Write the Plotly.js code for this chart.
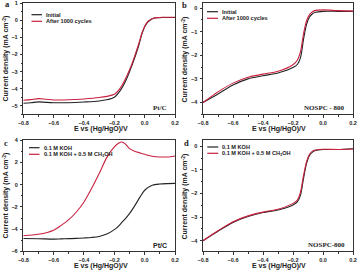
<!DOCTYPE html>
<html><head><meta charset="utf-8">
<script src="https://cdn.plot.ly/plotly-3.0.1.min.js"></script>
<style>html,body{margin:0;padding:0;background:#fff}#p{width:360px;height:274px}</style>
</head><body><div id="p"></div>
<script>
// Panel a: Pt/C stability
const a_E = [-0.8,-0.75,-0.7,-0.65,-0.6,-0.5,-0.4,-0.3,-0.25,-0.2,-0.16,-0.12,-0.08,-0.04,-0.02,0,0.02,0.04,0.06,0.08,0.12,0.16,0.2];
const a_initial = [-4.85,-4.82,-4.77,-4.8,-4.82,-4.82,-4.78,-4.72,-4.65,-4.5,-4.1,-3.45,-2.55,-1.5,-0.85,-0.38,-0.1,0.04,0.12,0.15,0.17,0.17,0.17];
const a_after = [-4.68,-4.64,-4.58,-4.62,-4.66,-4.65,-4.6,-4.52,-4.45,-4.33,-3.95,-3.3,-2.45,-1.4,-0.8,-0.35,-0.08,0.05,0.13,0.16,0.18,0.18,0.18];
// Panel b: NOSPC-800 stability
const b_E = [-0.8,-0.7,-0.6,-0.5,-0.4,-0.3,-0.2,-0.17,-0.15,-0.13,-0.11,-0.09,-0.07,-0.05,0,0.1,0.2];
const b_initial = [-4.0,-3.64,-3.26,-3.0,-2.87,-2.75,-2.52,-2.38,-2.1,-1.33,-0.7,-0.38,-0.24,-0.18,-0.14,-0.14,-0.14];
const b_after = [-4.0,-3.55,-3.18,-2.93,-2.8,-2.68,-2.4,-2.2,-1.85,-1.1,-0.55,-0.28,-0.16,-0.1,-0.08,-0.11,-0.13];
// Panel c: Pt/C methanol tolerance
const c_E = [-0.8,-0.7,-0.6,-0.55,-0.5,-0.45,-0.4,-0.35,-0.3,-0.25,-0.2,-0.17,-0.15,-0.13,-0.1,-0.07,-0.03,0,0.05,0.1,0.15,0.2];
const c_koh = [-4.85,-4.87,-4.9,-4.88,-4.86,-4.84,-4.8,-4.75,-4.66,-4.45,-4.05,-3.7,-3.4,-3.1,-2.6,-2.0,-1.1,-0.5,-0.05,0.06,0.1,0.12];
const c_meoh = [-4.6,-4.47,-4.1,-3.66,-3.15,-2.46,-1.56,-0.35,1.0,2.44,3.4,3.76,3.85,3.7,3.25,3.04,2.86,2.74,2.56,2.5,2.5,2.59];
// Panel d: NOSPC-800 methanol tolerance
const d_E = [-0.8,-0.7,-0.6,-0.5,-0.4,-0.3,-0.2,-0.17,-0.15,-0.13,-0.11,-0.09,-0.07,-0.05,0,0.1,0.2];
const d_koh = [-4.0,-3.6,-3.23,-2.98,-2.81,-2.7,-2.49,-2.35,-2.07,-1.37,-0.74,-0.39,-0.25,-0.18,-0.14,-0.14,-0.11];
const d_meoh = [-4.0,-3.58,-3.2,-2.95,-2.79,-2.67,-2.42,-2.27,-1.95,-1.25,-0.66,-0.34,-0.21,-0.16,-0.13,-0.14,-0.12];

const legA = ["Initial","After 1000 cycles"];
const legC = ["0.1 M KOH","0.1 M KOH + 0.5 M CH<sub>3</sub>OH"];
const xTitle = "E vs (Hg/HgO)/V";
const yTitle = "Current density (mA cm<sup>-2</sup>)";

const BLACK = "#222222", RED = "#c8203f";
const W = 360, H = 274;
const px = v => v / W, py = v => 1 - v / H;

function tr(x, y, c, xa, ya) {
  return {x: x, y: y, type: "scatter", mode: "lines", xaxis: xa, yaxis: ya,
    line: {color: c, width: 1.1, shape: "spline", smoothing: 0.8}, showlegend: false, hoverinfo: "skip"};
}
const data = [
  tr(a_E, a_initial, BLACK, "x", "y"), tr(a_E, a_after, RED, "x", "y"),
  tr(b_E, b_initial, BLACK, "x2", "y2"), tr(b_E, b_after, RED, "x2", "y2"),
  tr(c_E, c_koh, BLACK, "x3", "y3"), tr(c_E, c_meoh, RED, "x3", "y3"),
  tr(d_E, d_koh, BLACK, "x4", "y4"), tr(d_E, d_meoh, RED, "x4", "y4")
];

const tickF = {family: "Liberation Sans, Arial", size: 5.5, color: "#222", weight: "bold"};
function xax(dom, anchor) {
  return {domain: dom, anchor: anchor, range: [-0.8, 0.2], dtick: 0.2, tick0: -0.8, tickformat: ".1f",
    showline: true, mirror: true, linecolor: "#333", linewidth: 1, ticks: "outside", ticklen: 2.5,
    tickcolor: "#333", tickwidth: 1, showgrid: false, zeroline: false, tickfont: tickF, ticklabelstandoff: 1,
    minor: {dtick: 0.1, ticks: "outside", ticklen: 1.5, tickcolor: "#333"}};
}
function yax(dom, anchor, range, dt) {
  return {domain: dom, anchor: anchor, range: range, dtick: dt, tick0: 0,
    showline: true, mirror: true, linecolor: "#333", linewidth: 1, ticks: "outside", ticklen: 2.5,
    tickcolor: "#333", tickwidth: 1, showgrid: false, zeroline: false, tickfont: tickF, ticklabelstandoff: 1,
    minor: {dtick: dt / 2, ticks: "outside", ticklen: 1.5, tickcolor: "#333"}};
}
const xL = [px(23.3), px(175)], xR = [px(203), px(353)];
const yT = [py(114.3), py(3.3)], yB = [py(251.3), py(140.3)];

const labF = {family: "Liberation Sans, Arial", size: 7, color: "#222", weight: "bold"};
const legF = {family: "Liberation Sans, Arial", size: 5.6, color: "#222", weight: "bold"};
const serifF = {family: "Liberation Serif, Times New Roman", size: 7, color: "#222", weight: "bold"};
const panelF = {family: "Liberation Serif, Times New Roman", size: 8.5, color: "#222", weight: "bold"};

function ann(x, y, text, font, extra) {
  return Object.assign({xref: "paper", yref: "paper", x: px(x), y: py(y), text: text, font: font,
    showarrow: false, xanchor: "center", yanchor: "middle"}, extra || {});
}
const annotations = [
  ann(101, 128.5, xTitle, labF), ann(279, 128.5, xTitle, labF),
  ann(101, 265.5, xTitle, labF), ann(279, 265.5, xTitle, labF),
  ann(5.5, 59, yTitle, labF, {textangle: -90}), ann(184.5, 59, yTitle, labF, {textangle: -90}),
  ann(5.5, 196, yTitle, labF, {textangle: -90}), ann(184.5, 196, yTitle, labF, {textangle: -90}),
  ann(7.5, 4.5, "a", panelF), ann(184.5, 5, "b", panelF),
  ann(6, 142.5, "c", panelF), ann(186, 142.5, "d", panelF),
  ann(169, 108, "Pt/C", serifF, {xanchor: "right"}),
  ann(347, 108, "NOSPC - 800", serifF, {xanchor: "right"}),
  ann(169, 245, "Pt/C", {family: "Liberation Sans, Arial", size: 7, color: "#222", weight: "bold"}, {xanchor: "right"}),
  ann(347, 245, "NOSPC-800", serifF, {xanchor: "right"}),
  // legends
  ann(43.5, 14.5, legA[0], legF, {xanchor: "left"}), ann(43.5, 21.3, legA[1], legF, {xanchor: "left"}),
  ann(219.5, 11.7, legA[0], legF, {xanchor: "left"}), ann(219.5, 18.3, legA[1], legF, {xanchor: "left"}),
  ann(41.5, 147.7, legC[0], legF, {xanchor: "left"}), ann(41.5, 154.3, legC[1], legF, {xanchor: "left"}),
  ann(220, 147, legC[0], legF, {xanchor: "left"}), ann(220, 153.3, legC[1], legF, {xanchor: "left"})
];
function seg(x0, x1, y, c) {
  return {type: "line", xref: "paper", yref: "paper", x0: px(x0), x1: px(x1), y0: py(y), y1: py(y),
    line: {color: c, width: 1.2}};
}
const shapes = [
  seg(31.5, 42, 14.7, BLACK), seg(31.5, 42, 21.3, RED),
  seg(207, 218, 11.7, BLACK), seg(207, 218, 18.3, RED),
  seg(29, 39.5, 147.7, BLACK), seg(29, 39.5, 154.3, RED),
  seg(207.3, 218.3, 147, BLACK), seg(207.3, 218.3, 153.3, RED)
];

const layout = {
  width: W, height: H, margin: {l: 0, r: 0, t: 0, b: 0},
  paper_bgcolor: "#fff", plot_bgcolor: "#fff", showlegend: false,
  xaxis: xax(xL, "y"), yaxis: yax(yT, "x", [-5.5, 1], 1),
  xaxis2: xax(xR, "y2"), yaxis2: yax(yT, "x2", [-4.5, 0.2], 1),
  xaxis3: xax(xL, "y3"), yaxis3: yax(yB, "x3", [-6, 4], 2),
  xaxis4: xax(xR, "y4"), yaxis4: yax(yB, "x4", [-4.45, 0.25], 1),
  annotations: annotations, shapes: shapes
};
Plotly.newPlot("p", data, layout, {staticPlot: true, displayModeBar: false});
</script></body></html>
